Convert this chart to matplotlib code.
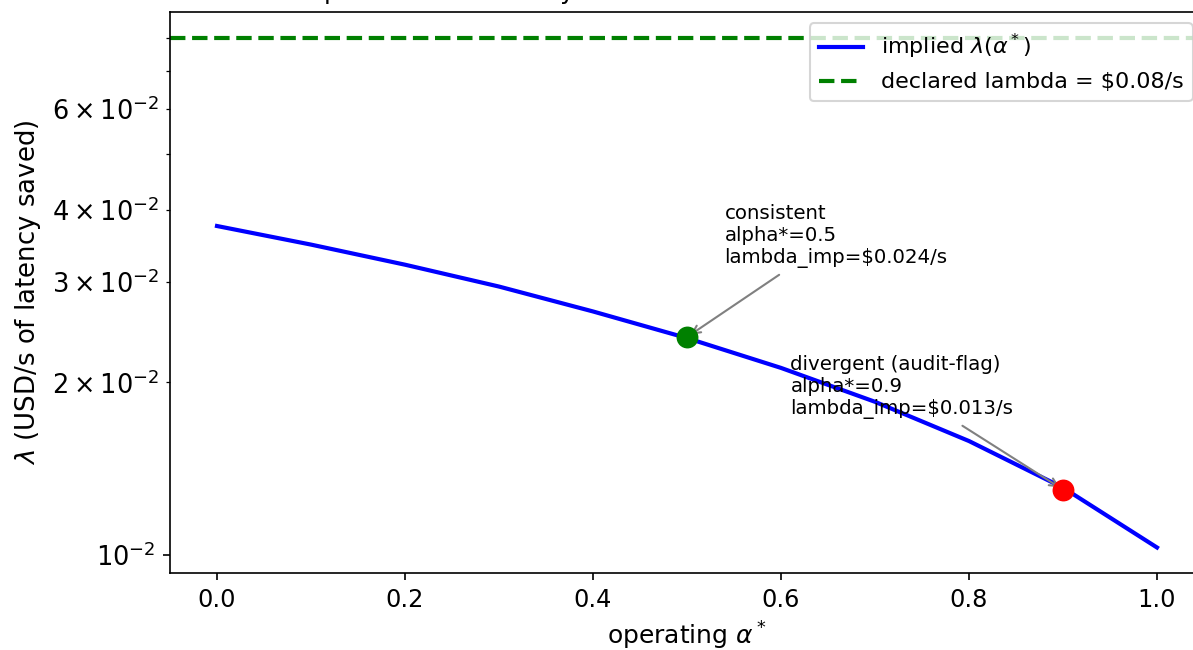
import matplotlib
matplotlib.use("Agg")
import matplotlib.pyplot as plt

# data
alpha = [0.0, 0.1, 0.2, 0.3, 0.4, 0.5, 0.6, 0.7, 0.8, 0.9, 1.0]
lambda_implied = [0.0375, 0.0348, 0.0321, 0.0294, 0.0266, 0.0239, 0.0212, 0.0185, 0.0158, 0.0131, 0.0103]
declared_lambda = 0.08
point_consistent = (0.5, 0.024)
point_divergent = (0.9, 0.013)
label_consistent = "consistent\nalpha*=0.5\nlambda_imp=$0.024/s"
label_divergent = "divergent (audit-flag)\nalpha*=0.9\nlambda_imp=$0.013/s"

fig = plt.figure(figsize=(1193 / 150, 650 / 150), dpi=150)
ax = fig.add_axes([170 / 1193, 77 / 650, (1204 - 170) / 1193, (573 - 12) / 650])

ax.plot(alpha, lambda_implied, color="blue", lw=2, label=r"implied $\lambda(\alpha^*)$")
ax.axhline(declared_lambda, color="green", ls="--", lw=2, label="declared lambda = $0.08/s")
ax.plot(*point_consistent, "o", color="green", ms=9.5, zorder=5)
ax.plot(*point_divergent, "o", color="red", ms=9.5, zorder=5)

ax.annotate(label_consistent, xy=point_consistent,
            xytext=(point_consistent[0] + 0.04, point_consistent[1] * 1.345),
            fontsize=9.5, arrowprops=dict(arrowstyle="->", color="gray"))
ax.annotate(label_divergent, xy=point_divergent,
            xytext=(point_divergent[0] - 0.29, point_divergent[1] * 1.353),
            fontsize=9.5, arrowprops=dict(arrowstyle="->", color="gray"))

ax.set_yscale("log")
ax.tick_params(axis="x", which="both", labelsize=11.5)
ax.tick_params(axis="y", which="both", labelsize=12.3)
ax.set_xlabel(r"operating $\alpha^*$", fontsize=12)
ax.set_ylabel(r"$\lambda$ (USD/s of latency saved)", fontsize=12.5)
ax.set_title(r"Implied $\lambda$ from latency trade-off vs. declared $\lambda$ and audit result", fontsize=12)
ax.legend(loc="upper right", fontsize=10.7)

fig.savefig("out.png", dpi=150)
